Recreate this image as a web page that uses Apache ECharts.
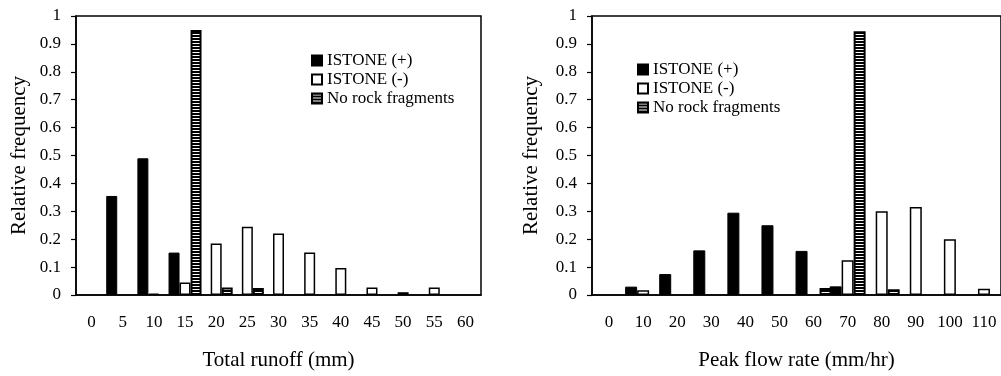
<!DOCTYPE html>
<html>
<head>
<meta charset="utf-8">
<script src="https://cdn.jsdelivr.net/npm/echarts@6/dist/echarts.min.js"></script>
<style>
  html, body { margin: 0; padding: 0; background: #fff; }
  #main { width: 1001px; height: 376px; }
</style>
</head>
<body>
<div id="main"></div>
<script>
// total runoff histogram (left)
const runoffCats = ['0', '5', '10', '15', '20', '25', '30', '35', '40', '45', '50', '55', '60'];
const runoffPlus = [0, 0.355, 0.49, 0.152, 0, 0, 0, 0, 0, 0, 0, 0, 0];
const runoffMinus = [0, 0, 0.005, 0.045, 0.185, 0.245, 0.22, 0.152, 0.097, 0.027, 0.01, 0.027, 0];
const runoffNoRock = [0, 0, 0, 0.95, 0.027, 0.025, 0, 0, 0, 0, 0, 0, 0];

// peak flow rate histogram (right)
const flowCats = ['0', '10', '20', '30', '40', '50', '60', '70', '80', '90', '100', '110'];
const flowPlus = [0, 0.03, 0.075, 0.16, 0.295, 0.25, 0.158, 0.031, 0, 0, 0, 0];
const flowMinus = [0, 0.017, 0, 0, 0, 0, 0, 0.125, 0.3, 0.315, 0.2, 0.022];
const flowNoRock = [0, 0, 0, 0, 0, 0, 0.025, 0.945, 0.021, 0, 0, 0];

const names = ['ISTONE (+)', 'ISTONE (-)', 'No rock fragments'];
const font = 'Liberation Serif';

// black bar with thin white stripes
const hatch = (function () {
  const c = document.createElement('canvas');
  c.width = 4;
  c.height = 3;
  const ctx = c.getContext('2d');
  ctx.fillStyle = '#000';
  ctx.fillRect(0, 0, 4, 3);
  ctx.fillStyle = '#fff';
  ctx.fillRect(0, 1, 4, 1);
  return c;
})();

const styles = [
  { color: '#000', borderColor: '#000', borderWidth: 1 },
  { color: '#fff', borderColor: '#000', borderWidth: 1.5 },
  { color: { image: hatch, repeat: 'repeat' }, borderColor: '#000', borderWidth: 2 },
];

const axisLine = { lineStyle: { color: '#000', width: 1.5 } };
const axisTick = { length: 5, lineStyle: { color: '#000', width: 1.2 } };
const labelStyle = { color: '#000', fontFamily: font, fontSize: 17 };
const nameStyle = { color: '#000', fontFamily: font, fontSize: 21 };

function xAxis(idx, cats, name) {
  return {
    gridIndex: idx,
    type: 'category',
    data: cats,
    axisLine: axisLine,
    axisTick: axisTick,
    axisLabel: Object.assign({ margin: 19, interval: 0 }, labelStyle),
    name: name,
    nameLocation: 'middle',
    nameGap: 55,
    nameTextStyle: nameStyle,
  };
}

function yAxis(idx, gap) {
  return {
    gridIndex: idx,
    type: 'value',
    min: 0,
    max: 1,
    interval: 0.1,
    splitLine: { show: false },
    axisLine: Object.assign({ show: true }, axisLine),
    axisTick: Object.assign({ show: true }, axisTick),
    axisLabel: Object.assign({ margin: 15 }, labelStyle),
    name: 'Relative frequency',
    nameLocation: 'middle',
    nameGap: gap,
    nameTextStyle: nameStyle,
  };
}

function bars(idx, values, k, width) {
  return {
    name: names[k],
    type: 'bar',
    xAxisIndex: idx,
    yAxisIndex: idx,
    barWidth: width,
    barGap: '0%',
    silent: true,
    itemStyle: styles[k],
    data: values.map(v => (v ? v : null)),
  };
}

function legend(left, top) {
  return {
    left: left,
    top: top,
    padding: 0,
    orient: 'vertical',
    icon: 'rect',
    itemWidth: 10,
    itemHeight: 10,
    itemGap: 2,
    selectedMode: false,
    textStyle: { color: '#000', fontFamily: font, fontSize: 17, lineHeight: 17 },
    data: names,
  };
}

const chart = echarts.init(document.getElementById('main'));
chart.setOption({
  animation: false,
  backgroundColor: '#fff',
  legend: [legend(311, 52), legend(637, 61)],
  grid: [
    { left: 76, top: 16, width: 405, height: 281, show: true, borderColor: '#000', borderWidth: 1.5 },
    { left: 592, top: 16, width: 414, height: 282, show: true, borderColor: '#000', borderWidth: 1.5 },
  ],
  xAxis: [xAxis(0, runoffCats, 'Total runoff (mm)'), xAxis(1, flowCats, 'Peak flow rate (mm/hr)')],
  yAxis: [yAxis(0, 46), yAxis(1, 50)],
  series: [
    bars(0, runoffPlus, 0, 11),
    bars(0, runoffMinus, 1, 11),
    bars(0, runoffNoRock, 2, 11),
    bars(1, flowPlus, 0, 12),
    bars(1, flowMinus, 1, 12),
    bars(1, flowNoRock, 2, 12),
  ],
});
</script>
</body>
</html>
